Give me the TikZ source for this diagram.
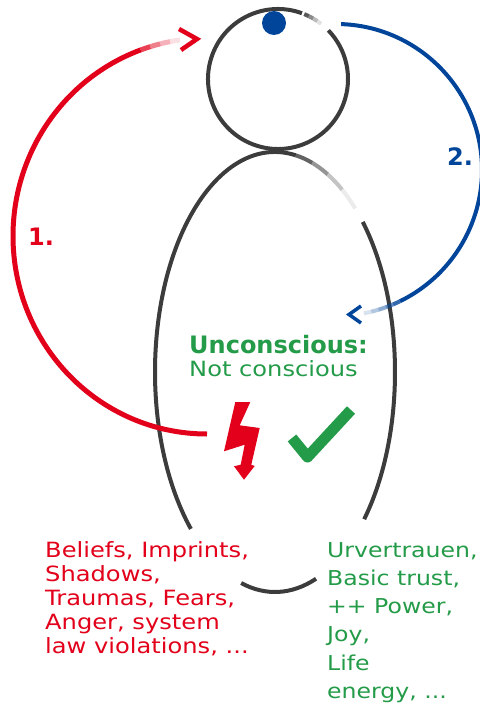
\documentclass[tikz,border=0pt]{standalone}
\usepackage{fontspec}
\setmainfont{DejaVu Sans}[FakeStretch=1.15, BoldFeatures={FakeStretch=1.0}]
\usetikzlibrary{positioning}
\definecolor{zred}{HTML}{E2001A}
\definecolor{zblue}{HTML}{00459A}
\definecolor{zgreen}{HTML}{239B48}
\definecolor{zgray}{HTML}{3C3C3C}
\tikzset{
  figline/.style={zgray, line width=4pt},
  redarc/.style={zred, line width=5pt},
  bluearc/.style={zblue, line width=4pt},
  chevron/.style={line width=4.5pt, line join=miter},
  txt/.style={inner sep=0pt, anchor=base west, align=left},
  numlabel/.style={inner sep=0pt, font=\fontsize{24}{24}\selectfont\bfseries},
}
\begin{document}
\begin{tikzpicture}[x=1pt, y=1pt]
\useasboundingbox (0,0) rectangle (479,-709);

% head with the dot
\draw[figline] (278,-79) ++(70:70) arc[start angle=70, end angle=404, radius=70];
\foreach \a/\o in {52/0.15, 56/0.35, 60/0.6, 64/0.85}
  \draw[figline, opacity=\o] (278,-79) ++(\a:70) arc[start angle=\a, end angle=\a+4, radius=70];
\fill[zblue] (274,-23) circle (12);

% body
\draw[figline] (275,-372) ++(-42:120 and 220) arc[start angle=-42, end angle=43, x radius=120, y radius=220];
\draw[figline] (275,-372) ++(80:120 and 220) arc[start angle=80, end angle=225.5, x radius=120, y radius=220];
\foreach \a/\o in {48/0.1, 56/0.3, 64/0.55, 72/0.8}
  \draw[figline, opacity=\o] (275,-372) ++(\a:120 and 220) arc[start angle=\a, end angle=\a+8, x radius=120, y radius=220];
\draw[figline] (275,-372) ++(253.6:120 and 220) arc[start angle=253.6, end angle=290, x radius=120, y radius=220];

% 1. red loop
\draw[redarc] (207,-236) ++(270:194 and 198) arc[start angle=270, end angle=110, x radius=194, y radius=198];
\foreach \a/\o in {110/0.75, 107/0.5, 104/0.3, 101/0.12}
  \draw[redarc, opacity=\o] (207,-236) ++(\a:194 and 198) arc[start angle=\a, end angle=\a-3, x radius=194, y radius=198];
\draw[zred, chevron] (179,-29) -- (197,-39) -- (181,-50);
\node[numlabel, text=zred] (one) at (41,-237) {1.};

% 2. blue loop
\draw[bluearc] (336,-170) ++(88:146) arc[start angle=88, end angle=-64, radius=146];
\foreach \a/\o in {-64/0.8, -67/0.6, -70/0.45, -73/0.3, -76/0.15}
  \draw[bluearc, opacity=\o] (336,-170) ++(\a:146) arc[start angle=\a, end angle=\a-3, radius=146];
\draw[zblue, chevron, line width=3.5pt] (361,-306) -- (349,-314.5) -- (361,-323);
\node[numlabel, text=zblue] (two) at (460,-157) {2.};

% middle text
\node[txt, text=zgreen, font=\fontsize{24}{23}\selectfont\bfseries] (unconscious) at (189,-353) {Unconscious:};
\node[txt, text=zgreen, font=\fontsize{21}{23}\selectfont] (notconscious) at ([yshift=-23pt]unconscious.base west) {Not conscious};

% bolt and tick
\fill[zred] (235.3,-402) -- (250.3,-402) -- (239.7,-425.3) -- (259.7,-428) -- (251.3,-464.7)
  -- (254.7,-466) -- (244,-479.7) -- (234,-466.3) -- (240.7,-464.7) -- (244.7,-444.7)
  -- (224,-451.3) -- cycle;
\draw[zgreen, line width=11pt, line join=round] (292,-438) -- (307.5,-457) -- (351,-410);

% lists (anchored at the last baseline)
\node[txt, text=zred, font=\fontsize{21}{24}\selectfont] (negative) at (45,-653)
  {Beliefs, Imprints,\\Shadows,\\Traumas, Fears,\\Anger, system\\law violations, ...};
\node[txt, text=zgreen, font=\fontsize{20.5}{28.3}\selectfont] (positive) at (327,-698.5)
  {Urvertrauen,\\Basic trust,\\++ Power,\\Joy,\\Life\\energy, ...};
\end{tikzpicture}
\end{document}
